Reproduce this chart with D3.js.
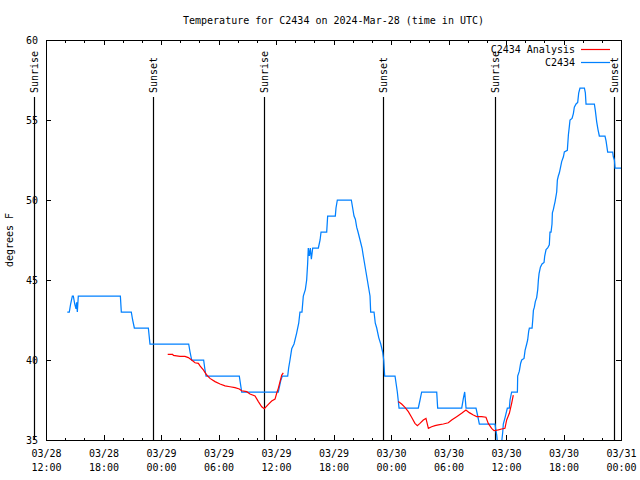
<!DOCTYPE html>
<html><head><meta charset="utf-8">
<script src="https://cdn.jsdelivr.net/npm/d3@7"></script>
<style>
body{margin:0;background:#fff}
text{font-family:"DejaVu Sans Mono",monospace;font-size:10px;fill:#000}
</style>
</head><body>
<svg id="chart" width="640" height="480"></svg>
<script>
// ---------------- data ----------------
const chartTitle = "Temperature for C2434 on 2024-Mar-28 (time in UTC)";
const yAxisLabel = "degrees F";
const seriesNames = ["C2434 Analysis", "C2434"];
const startTime = "2024-03-28T12:00:00Z";
const endTime = "2024-03-31T00:00:00Z";
const yTickValues = [35, 40, 45, 50, 55, 60];
const sunriseTimes = ["2024-03-28T10:47:00Z", "2024-03-29T10:47:00Z", "2024-03-30T10:48:00Z"];
const sunsetTimes  = ["2024-03-28T23:11:00Z", "2024-03-29T23:12:00Z", "2024-03-30T23:16:00Z"];

// observations: hours since startTime, temperature (F)
const obsHours = [2.22,2.43,2.57,2.75,2.85,3.0,3.13,3.2,3.27,3.37,7.76,7.86,8.9,9.04,9.22,10.68,10.85,14.89,15.03,15.2,
  16.45,16.56,16.7,20.17,20.42,24.24,24.35,24.49,24.66,25.22,25.32,25.46,25.64,25.88,26.16,26.37,26.5,26.71,26.85,27.06,
  27.2,27.3,27.37,27.48,27.58,27.69,27.83,28.42,28.6,28.7,29.29,29.39,30.19,30.26,30.4,31.86,32.0,32.14,32.28,32.42,
  32.56,32.77,32.98,33.11,33.25,33.39,33.53,33.67,33.81,33.88,34.23,34.36,34.51,34.72,34.93,35.13,35.24,35.34,36.42,36.66,
  36.84,38.85,39.03,39.2,40.77,40.87,43.38,43.55,43.69,43.83,44.87,45.05,45.22,46.85,47.03,47.2,47.45,47.66,47.72,47.9,
  48.14,48.35,48.42,48.59,48.87,49.19,49.22,49.39,49.53,49.64,49.88,49.99,50.16,50.26,50.37,50.44,50.72,50.79,50.86,50.96,
  51.06,51.2,51.31,51.38,51.45,51.59,51.76,51.97,52.04,52.18,52.35,52.52,52.59,52.7,52.8,52.84,52.94,53.01,53.12,53.29,
  53.36,53.46,53.57,53.71,53.81,53.99,54.09,54.4,54.51,54.61,54.68,54.89,55.03,55.13,55.31,55.48,55.59,55.72,56.18,56.28,
  56.35,57.22,57.32,57.46,57.6,57.74,58.33,58.44,58.61,59.13,59.2,59.31,59.38,60.0];
const obsTemps = [43,43,43.5,44,44,43.5,43.2,43.6,43,44,44,43,43,42.5,42,42,41,41,40.5,40,
  40,39.5,39,39,38,38,38.3,38.7,39,39,39.5,40,40.7,41,41.7,42.3,43,43,44,44.4,
  45,46,47,46.5,47,46.3,47,47,47.5,48,48,49,49,49.5,50,50,49.5,49,48.8,48.3,
  48,47.5,47,46.5,46,45.5,45,44.5,44,43,43,42.3,42,41.4,41,40.5,40,39,39,38,
  37,37,37.5,38,38,37,37,37.6,38,37,37,36.5,36,36,35.3,34.3,34.3,35.5,36,36.4,
  37,37,37.5,38,38,38,39,39.3,39.8,40,40.1,40.6,41,41.25,41.8,42,42,42.5,43.1,43.3,
  43.65,43.9,44.4,45,45.4,45.8,46,46.1,46.5,46.9,47,47.2,48,48,48.5,49.2,49.4,49.6,49.9,50.5,
  51.25,51.5,51.7,52.1,52.4,52.7,53,53.1,54.06,54.6,55,55.1,55.4,55.8,56,56.1,56.7,57,57,56.7,
  56,56,55.6,54.9,54.4,54,54,53.7,53,53,52.7,52.5,52,52];

// analysis: hours since startTime, temperature (F); null = no data
const anaHours = [12.7,13.22,13.29,13.98,14.5,14.85,15.2,15.55,15.9,16.07,16.42,16.77,17.11,17.64,18.16,18.68,19.2,19.72,20.17,20.42,
  20.94,21.29,21.81,22.16,22.51,22.78,23.2,23.55,23.9,24.07,24.24,24.42,24.6,24.76,30.0,
  36.76,37.11,37.46,37.81,38.15,38.5,38.75,39.02,39.37,39.65,39.9,40.24,40.59,40.94,41.46,41.98,42.33,42.85,43.37,43.82,
  44.17,44.59,44.94,45.46,45.91,46.15,46.5,46.75,47.2,47.55,47.89,48.07,48.35,48.59,48.76];
const anaTemps = [40.35,40.35,40.29,40.23,40.23,40.15,40.0,39.83,39.79,39.63,39.38,39.06,38.85,38.65,38.5,38.38,38.33,38.27,38.19,38.08,
  38.02,37.87,37.75,37.4,37.08,36.96,37.23,37.44,37.56,37.92,38.23,38.65,39.06,39.2,null,
  37.4,37.25,37.04,36.77,36.42,36.04,35.9,36.04,36.25,36.35,35.73,35.83,35.9,35.94,36.0,36.08,36.25,36.46,36.67,36.88,
  36.71,36.56,36.46,36.46,36.42,36.04,35.73,35.58,35.63,35.69,35.73,36.25,36.67,37.29,37.8];

// ---------------- drawing ----------------
const colors = {analysis: "#ff0000", obs: "#0080ff"};
const L = 46, R = 621, T = 40, B = 440;
const svg = d3.select("#chart");
const t0 = new Date(startTime), t1 = new Date(endTime);
const toDate = h => new Date(t0.getTime() + h * 3600000);

const x = d3.scaleUtc().domain([t0, t1]).range([L, R]);
const y = d3.scaleLinear().domain([35, 60]).range([B, T]);

svg.append("rect").attr("width", 640).attr("height", 480).attr("fill", "#fff");

svg.append("text").attr("x", (L + R) / 2).attr("y", 24).attr("text-anchor", "middle").text(chartTitle);
svg.append("text").attr("transform", "translate(13,240) rotate(-90)").attr("text-anchor", "middle").text(yAxisLabel);

const majorTicks = x.ticks(d3.utcHour.every(6));
const minorTicks = x.ticks(d3.utcHour.every(2));
const fmtD = d3.utcFormat("%m/%d"), fmtH = d3.utcFormat("%H:%M");

const gB = svg.append("g").attr("transform", `translate(0,${B})`)
  .call(d3.axisBottom(x).tickValues(majorTicks).tickSizeInner(-5).tickSizeOuter(0).tickFormat(""));
gB.selectAll(".tick text").remove();
gB.selectAll(".tick").append("text").attr("text-anchor", "middle").attr("fill", "#000")
  .each(function(d){
    const t = d3.select(this);
    t.append("tspan").attr("x", 0).attr("y", 17).text(fmtD(d));
    t.append("tspan").attr("x", 0).attr("y", 31).text(fmtH(d));
  });
svg.append("g").attr("transform", `translate(0,${B})`)
  .call(d3.axisBottom(x).tickValues(minorTicks).tickSizeInner(-2.5).tickSizeOuter(0).tickFormat(""));
svg.append("g").attr("transform", `translate(0,${T})`)
  .call(d3.axisTop(x).tickValues(majorTicks).tickSizeInner(-5).tickSizeOuter(0).tickFormat(""));
svg.append("g").attr("transform", `translate(0,${T})`)
  .call(d3.axisTop(x).tickValues(minorTicks).tickSizeInner(-2.5).tickSizeOuter(0).tickFormat(""));
const gL = svg.append("g").attr("transform", `translate(${L},0)`)
  .call(d3.axisLeft(y).tickValues(yTickValues).tickSizeInner(-5).tickSizeOuter(0).tickPadding(8).tickFormat(d3.format("d")));
gL.selectAll(".tick text").attr("fill", "#000");
svg.append("g").attr("transform", `translate(${R},0)`)
  .call(d3.axisRight(y).tickValues(yTickValues).tickSizeInner(-5).tickSizeOuter(0).tickFormat(""));
svg.selectAll(".domain").remove();
svg.selectAll(".tick line").attr("stroke", "#000").attr("shape-rendering", "crispEdges");
svg.selectAll("g").attr("font-family", null).attr("font-size", null);

svg.append("rect").attr("x", L).attr("y", T).attr("width", R - L).attr("height", B - T)
  .attr("fill", "none").attr("stroke", "#000").attr("stroke-width", 1).attr("shape-rendering", "crispEdges");

svg.append("clipPath").attr("id", "plotclip").append("rect")
  .attr("x", L).attr("y", T).attr("width", R - L).attr("height", B - T);

const markers = sunriseTimes.map(t => ({t: new Date(t), label: "Sunrise"}))
  .concat(sunsetTimes.map(t => ({t: new Date(t), label: "Sunset"})));
const markerTop = T + 57, labelStart = T + 53;
markers.forEach(m => {
  const mx = Math.round(x(m.t)) + 0.5;
  svg.append("line").attr("x1", mx).attr("x2", mx).attr("y1", markerTop).attr("y2", B)
    .attr("stroke", "#000").attr("stroke-width", 1.2);
  svg.append("text").attr("transform", `translate(${mx},${labelStart}) rotate(-90)`)
    .attr("dy", "0.35em").text(m.label);
});

const obsData = obsHours.map((h, i) => ({t: toDate(h), v: obsTemps[i]}));
const anaData = anaHours.map((h, i) => ({t: toDate(h), v: anaTemps[i]}));
const line = d3.line().defined(d => d.v != null).x(d => x(d.t)).y(d => y(d.v));
const plot = svg.append("g").attr("clip-path", "url(#plotclip)");
plot.append("path").datum(obsData).attr("d", line).attr("fill", "none")
  .attr("stroke", colors.obs).attr("stroke-width", 1.25);
plot.append("path").datum(anaData).attr("d", line).attr("fill", "none")
  .attr("stroke", colors.analysis).attr("stroke-width", 1.2);

const legend = [{name: seriesNames[0], c: colors.analysis, w: 1.2}, {name: seriesNames[1], c: colors.obs, w: 1.25}];
legend.forEach((s, i) => {
  const ly = 49 + i * 13;
  svg.append("text").attr("x", 575).attr("y", ly).attr("dy", "0.35em").attr("text-anchor", "end").text(s.name);
  svg.append("line").attr("x1", 581).attr("x2", 610).attr("y1", ly + 0.5).attr("y2", ly + 0.5)
    .attr("stroke", s.c).attr("stroke-width", s.w);
});
</script>
</body></html>
